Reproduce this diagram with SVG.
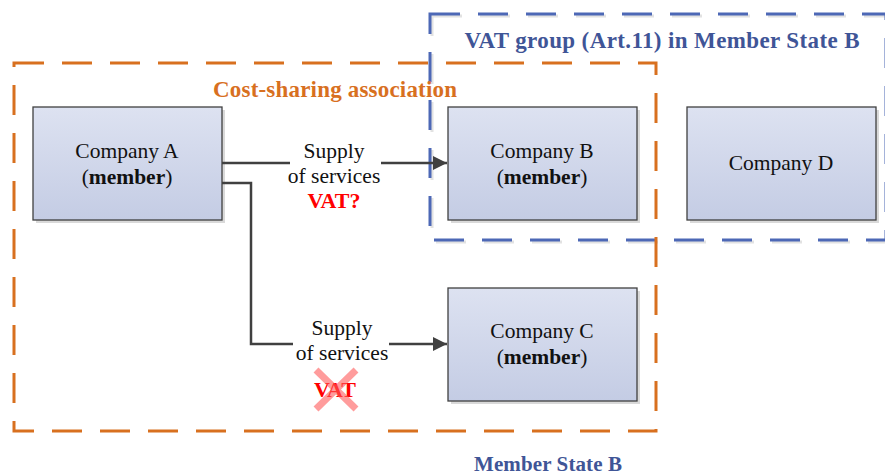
<svg xmlns="http://www.w3.org/2000/svg" width="885" height="476" viewBox="0 0 885 476">
  <defs>
    <linearGradient id="boxFill" x1="0" y1="0" x2="0" y2="1">
      <stop offset="0" stop-color="#DDE2F1"/>
      <stop offset="1" stop-color="#C4CCE4"/>
    </linearGradient>
    <marker id="arrow" viewBox="0 0 14 14" refX="14" refY="7" markerWidth="14" markerHeight="14" markerUnits="userSpaceOnUse" orient="auto">
      <path d="M0,0 L14,7 L0,14 z" fill="#404040"/>
    </marker>
    <style>
      .box { fill: url(#boxFill); stroke: #404040; stroke-width: 1.3; }
      .shadow { fill: #D9D9D9; }
      .lbl { font-family: "Liberation Serif", "Times New Roman", serif; font-size: 21.5px; fill: #111; text-anchor: middle; }
      .b { font-weight: bold; }
      .red { fill: #FF0000; font-weight: bold; }
      .conn { fill: none; stroke: #404040; stroke-width: 2.5; }
      .dashO { fill: none; stroke: #D8701F; stroke-width: 3; stroke-dasharray: 30 18; }
      .dashB { fill: none; stroke: #4D68B6; stroke-width: 3; stroke-dasharray: 30 18; }
      .dashShadow { fill: none; stroke: #E2E2E2; stroke-width: 3; stroke-dasharray: 30 18; }
      .title { font-family: "Liberation Serif", "Times New Roman", serif; font-size: 23px; font-weight: bold; text-anchor: middle; }
    </style>
  </defs>

  <!-- group boundaries -->
  <g id="vat-group">
    <rect class="dashShadow" x="432" y="16" width="456" height="226"/>
    <rect class="dashB" x="430" y="14" width="456" height="226"/>
    <text class="title" x="662" y="48" fill="#3F5597" textLength="395" lengthAdjust="spacing">VAT group (Art.11) in Member State B</text>
  </g>
  <g id="cost-sharing">
    <rect class="dashO" x="14" y="63" width="642" height="368"/>
    <text class="title" x="335" y="97" fill="#D8701F" textLength="244" lengthAdjust="spacing">Cost-sharing association</text>
  </g>
  <g id="member-state">
    <text class="title" x="548" y="471" fill="#3F5597" style="font-size:21px" textLength="148" lengthAdjust="spacing">Member State B</text>
  </g>

  <!-- companies -->
  <g id="company-a">
    <rect class="shadow" x="36" y="110" width="189" height="113"/>
    <rect class="box" x="33" y="107" width="189" height="113"/>
    <text class="lbl" x="127" y="158">Company A</text>
    <text class="lbl" x="127" y="184">(<tspan class="b">member</tspan>)</text>
  </g>
  <g id="company-b">
    <rect class="shadow" x="451" y="110" width="189" height="113"/>
    <rect class="box" x="448" y="107" width="189" height="113"/>
    <text class="lbl" x="542" y="158">Company B</text>
    <text class="lbl" x="542" y="184">(<tspan class="b">member</tspan>)</text>
  </g>
  <g id="company-d">
    <rect class="shadow" x="690" y="110" width="189" height="113"/>
    <rect class="box" x="687" y="107" width="189" height="113"/>
    <text class="lbl" x="781" y="170">Company D</text>
  </g>
  <g id="company-c">
    <rect class="shadow" x="451" y="291" width="189" height="113"/>
    <rect class="box" x="448" y="288" width="189" height="113"/>
    <text class="lbl" x="542" y="338">Company C</text>
    <text class="lbl" x="542" y="364">(<tspan class="b">member</tspan>)</text>
  </g>

  <!-- connectors -->
  <g id="connectors">
    <path class="conn" d="M222,163 H290"/>
    <path class="conn" d="M381,163 H447" marker-end="url(#arrow)"/>
    <path class="conn" d="M222,183 H251 V344 H293"/>
    <path class="conn" d="M389,344 H447" marker-end="url(#arrow)"/>
  </g>

  <!-- connector labels -->
  <g id="label-b">
    <text class="lbl" x="334" y="158">Supply</text>
    <text class="lbl" x="334" y="183">of services</text>
    <text class="lbl red" x="334" y="208" style="font-size:22px">VAT?</text>
  </g>
  <g id="label-c">
    <text class="lbl" x="342" y="335">Supply</text>
    <text class="lbl" x="342" y="360">of services</text>
    <text class="lbl red" x="335" y="397" style="font-size:22px">VAT</text>
    <path d="M316,370 L356,409 M356,370 L316,409" stroke="#FF5A5A" stroke-opacity="0.6" stroke-width="7" fill="none"/>
  </g>
</svg>
